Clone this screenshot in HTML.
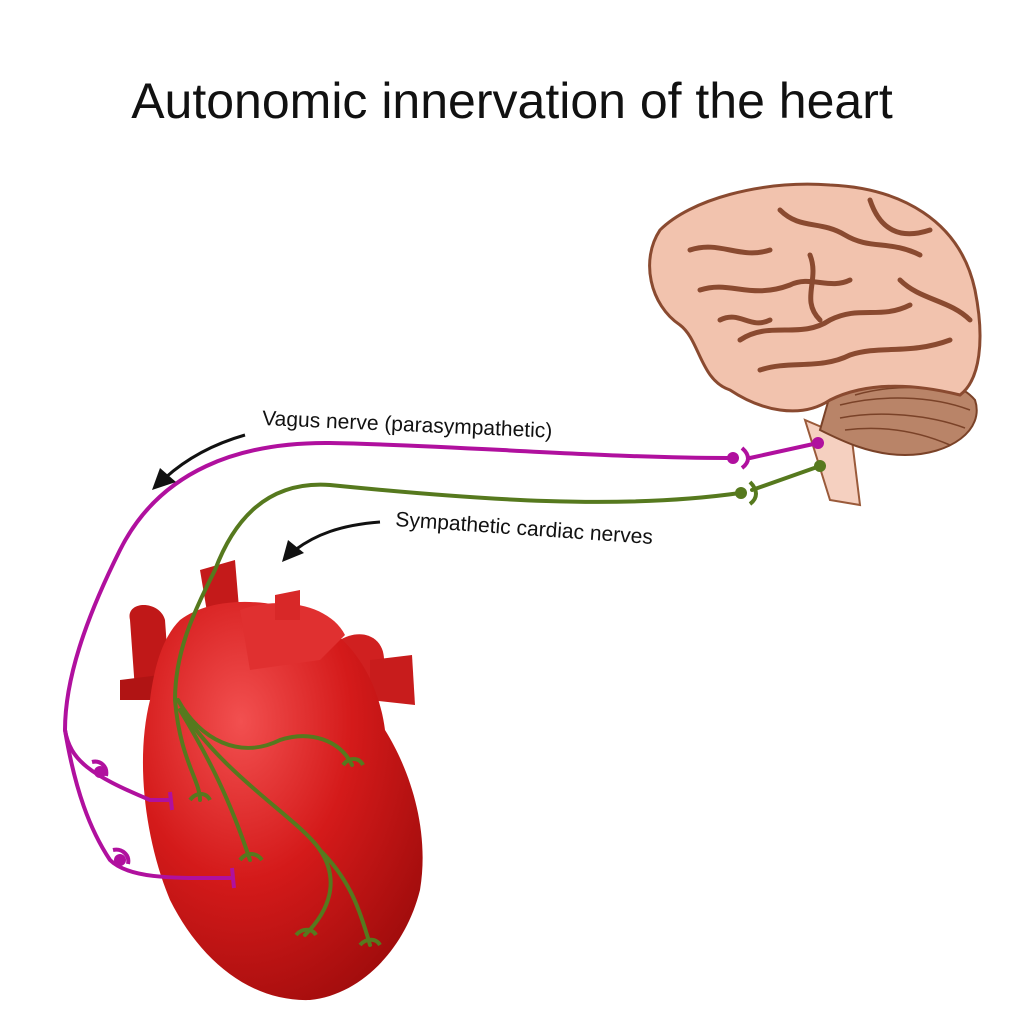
<!DOCTYPE html>
<html><head><style>html,body{margin:0;padding:0;background:#fff}svg{display:block}</style></head>
<body>
<svg width="1024" height="1024" viewBox="0 0 1024 1024" xmlns="http://www.w3.org/2000/svg">
<defs>
<radialGradient id="hg" cx="0.35" cy="0.3" r="0.8">
<stop offset="0" stop-color="#f25050"/><stop offset="0.5" stop-color="#d41a1a"/><stop offset="1" stop-color="#a00c0c"/>
</radialGradient>
</defs>
<text x="512" y="118" font-family="Liberation Sans, sans-serif" font-size="50" text-anchor="middle" fill="#111">Autonomic innervation of the heart</text>

<!-- brain -->
<path d="M805 420 L830 500 L860 505 L852 440 Z" fill="#f5d0c0" stroke="#9a5a3a" stroke-width="2"/>
<path d="M830 395 C870 370 950 370 975 400 C985 430 950 455 905 455 C870 455 840 440 820 430 Z" fill="#b98468" stroke="#7a4228" stroke-width="2"/>
<g stroke="#7a4228" stroke-width="1.5" fill="none">
<path d="M840 405 C880 395 930 395 970 410"/><path d="M840 418 C880 410 930 415 965 428"/><path d="M845 430 C885 425 920 432 950 445"/><path d="M855 395 C890 385 930 385 960 395"/>
</g>
<path d="M660 230 C690 200 760 180 830 185 C900 188 960 220 975 290 C985 340 980 380 960 395 C920 385 870 380 830 400 C800 420 760 410 730 390 C700 380 700 340 680 325 C650 305 640 260 660 230 Z" fill="#f2c3ae" stroke="#8a4a30" stroke-width="3"/>
<g stroke="#8a4a30" stroke-width="5" fill="none" stroke-linecap="round">
<path d="M690 250 C720 240 740 260 770 250"/><path d="M700 290 C730 280 750 300 790 285 C810 275 830 290 850 280"/>
<path d="M740 340 C770 320 800 340 830 320 C860 305 880 320 910 305"/><path d="M780 210 C800 230 820 220 845 235 C870 250 890 240 920 255"/>
<path d="M870 200 C880 230 900 240 930 230"/><path d="M760 370 C790 360 820 370 850 355 C880 345 910 355 950 340"/>
<path d="M810 255 C820 280 800 300 820 320"/><path d="M900 280 C920 300 950 300 970 320"/><path d="M720 320 C740 310 750 330 770 320"/>
</g>

<!-- heart -->
<path d="M130 620 C125 600 160 600 165 620 L170 690 L135 690 Z" fill="#c01818"/>
<path d="M200 570 L235 560 L240 620 L210 630 Z" fill="#c41a1a"/>
<path d="M340 640 C365 625 395 640 380 680 L340 690 Z" fill="#d02020"/>
<path d="M370 660 L412 655 L415 705 L370 700 Z" fill="#c81c1c"/>
<path d="M120 680 L160 675 L160 700 L120 700 Z" fill="#b01414"/>
<path d="M180 620 C220 590 300 600 330 630 C360 650 380 690 385 730 C410 770 430 830 420 890 C405 950 360 995 310 1000 C250 1002 200 960 170 900 C145 840 135 760 150 700 C155 660 165 635 180 620 Z" fill="url(#hg)"/>
<path d="M240 610 C280 595 330 605 345 635 L320 660 L250 670 Z" fill="#e03030"/>
<path d="M275 595 L300 590 L300 620 L275 620 Z" fill="#d82828"/>

<!-- vagus -->
<g stroke="#b0109e" stroke-width="4" fill="none" stroke-linecap="round">
<path d="M818 443 L750 458"/>
<path d="M728 458 C600 458 450 445 330 443 C240 442 160 470 120 550 C85 620 65 680 65 730 C70 760 90 775 150 800 L170 800"/>
<path d="M65 730 C75 790 90 830 110 860 C130 880 180 878 230 878"/>
</g>
<g fill="#b0109e"><circle cx="818" cy="443" r="6"/><circle cx="733" cy="458" r="6"/><circle cx="100" cy="772" r="6"/><circle cx="120" cy="860" r="6"/></g>
<g stroke="#b0109e" stroke-width="4" fill="none"><path d="M742 448 C750 455 750 462 742 468"/><path d="M92 762 C100 760 108 766 106 776"/><path d="M113 850 C122 848 130 855 128 864"/><path d="M170 792 L172 810"/><path d="M232 868 L234 888"/></g>

<!-- sympathetic -->
<g stroke="#56791e" stroke-width="4" fill="none" stroke-linecap="round">
<path d="M820 466 L752 490"/>
<path d="M740 493 C620 510 480 500 330 485 C260 480 230 530 215 570 C195 610 175 650 175 700 C180 760 200 780 200 800"/>
<path d="M178 700 C200 740 240 760 280 740 C310 730 340 740 352 765"/>
<path d="M180 710 C210 760 230 800 250 860"/>
<path d="M185 715 C230 780 300 820 320 850 C340 880 330 910 305 935"/>
<path d="M320 850 C350 880 360 910 370 945"/>
</g>
<g fill="#56791e"><circle cx="820" cy="466" r="6"/><circle cx="741" cy="493" r="6"/></g>
<g stroke="#56791e" stroke-width="4" fill="none"><path d="M750 482 C758 490 758 498 750 504"/><path d="M190 800 C196 792 206 792 210 800"/><path d="M240 860 C246 852 256 852 262 860"/><path d="M343 765 C349 757 359 757 363 765"/><path d="M296 935 C302 928 312 928 316 935"/><path d="M360 945 C366 938 376 938 380 945"/></g>

<!-- labels -->
<text x="262" y="425" font-family="Liberation Sans, sans-serif" font-size="21" fill="#111" transform="rotate(2.5 262 425)">Vagus nerve (parasympathetic)</text>
<text x="395" y="526" font-family="Liberation Sans, sans-serif" font-size="21" fill="#111" transform="rotate(4 395 526)">Sympathetic cardiac nerves</text>
<path d="M245 435 C210 445 185 460 165 478" stroke="#111" stroke-width="3" fill="none"/>
<polygon points="152,490 160,468 176,482" fill="#111"/>
<path d="M380 522 C340 525 315 535 295 550" stroke="#111" stroke-width="3" fill="none"/>
<polygon points="282,562 288,540 304,553" fill="#111"/>
</svg>
</body></html>
